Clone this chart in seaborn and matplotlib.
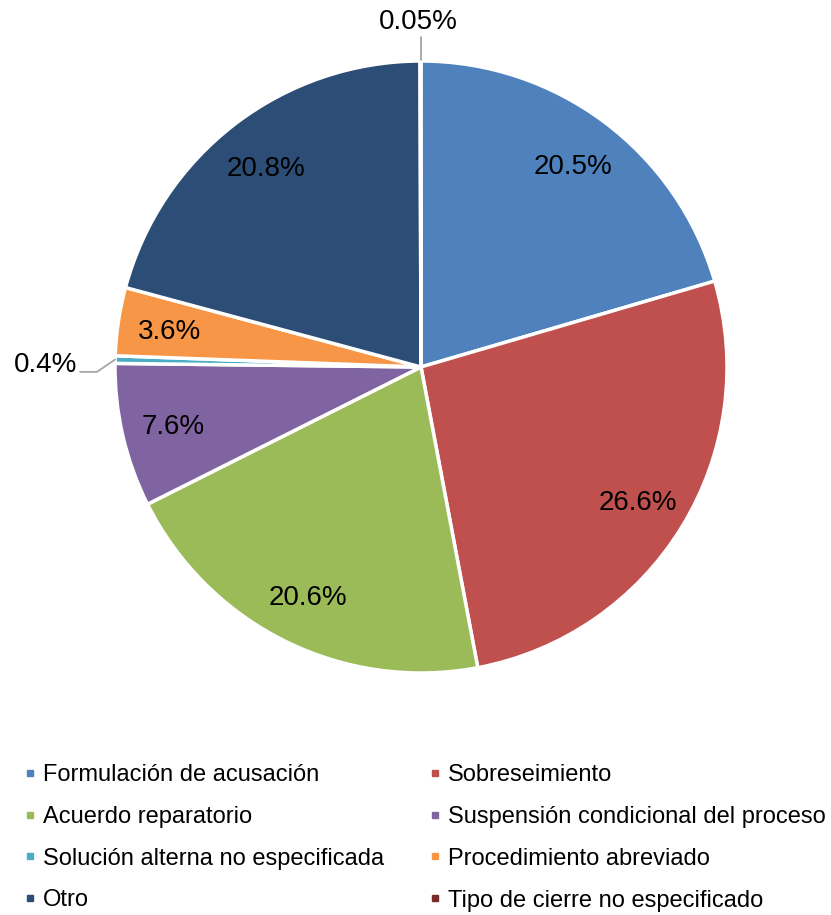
import matplotlib
matplotlib.use("Agg")
import matplotlib.pyplot as plt
from matplotlib.lines import Line2D
import numpy as np
import seaborn as sns

# Data
categorias = [
    "Formulación de acusación",
    "Sobreseimiento",
    "Acuerdo reparatorio",
    "Suspensión condicional del proceso",
    "Solución alterna no especificada",
    "Procedimiento abreviado",
    "Otro",
    "Tipo de cierre no especificado",
]
porcentajes = [20.5, 26.6, 20.6, 7.6, 0.4, 3.6, 20.8, 0.05]
colores = ["#4F81BD", "#C0504D", "#9BBB59", "#8064A2",
           "#4BACC6", "#F79646", "#2C4D75", "#772C2A"]

sns.set_theme(style="white")
plt.rcParams['font.family'] = ['Liberation Sans', 'DejaVu Sans']
plt.rcParams['text.color'] = 'black'
palette = sns.color_palette(colores)

fig = plt.figure(figsize=(8.31, 9.15), dpi=100)
ax = fig.add_axes([115 / 831, 242 / 915, 612 / 831, 612 / 915])

wedges, _ = ax.pie(porcentajes, colors=palette, startangle=90, counterclock=False,
                   wedgeprops=dict(edgecolor="white", linewidth=2.5))
ax.set_xlim(-1, 1)
ax.set_ylim(-1, 1)
ax.set_aspect("equal")
ax.axis("off")

lbl_size = 20
for w, v in zip(wedges, porcentajes):
    ang = np.deg2rad((w.theta1 + w.theta2) / 2)
    txt = f"{v:g}%"
    if v >= 1:
        ax.text(0.83 * np.cos(ang), 0.83 * np.sin(ang) - 0.01, txt, ha="center",
                va="center", fontsize=lbl_size, color="black")
    elif v >= 0.1:
        # leader line towards the left
        x0, y0 = np.cos(ang), np.sin(ang)
        ax.plot([x0, -1.059, -1.114], [y0, -0.016, -0.016], color="#A6A6A6",
                lw=1.3, clip_on=False)
        ax.text(-1.124, 0.006, txt, ha="right", va="center", fontsize=lbl_size,
                color="black", clip_on=False)
    else:
        # leader line upwards
        x0, y0 = np.cos(ang), np.sin(ang)
        ax.plot([x0, x0], [1.003, 1.078], color="#A6A6A6", lw=1.3, clip_on=False)
        ax.text(-0.01, 1.127, txt, ha="center", va="center", fontsize=lbl_size,
                color="black", clip_on=False)

# Legend in row-major order (2 columns)
handles = [Line2D([], [], marker="s", linestyle="none", markersize=5,
                  markerfacecolor=c, markeredgecolor=c) for c in palette]
orden = [0, 2, 4, 6, 1, 3, 5, 7]
fig.legend([handles[i] for i in orden], [categorias[i] for i in orden],
           ncol=2, loc="upper left", bbox_to_anchor=(24 / 831, 1 - 764 / 915),
           frameon=False, fontsize=17, handlelength=0.5, handletextpad=0.3,
           labelspacing=0.84, columnspacing=1.9, borderaxespad=0, borderpad=0,
           labelcolor="black")

fig.savefig("out.png", dpi=100)
